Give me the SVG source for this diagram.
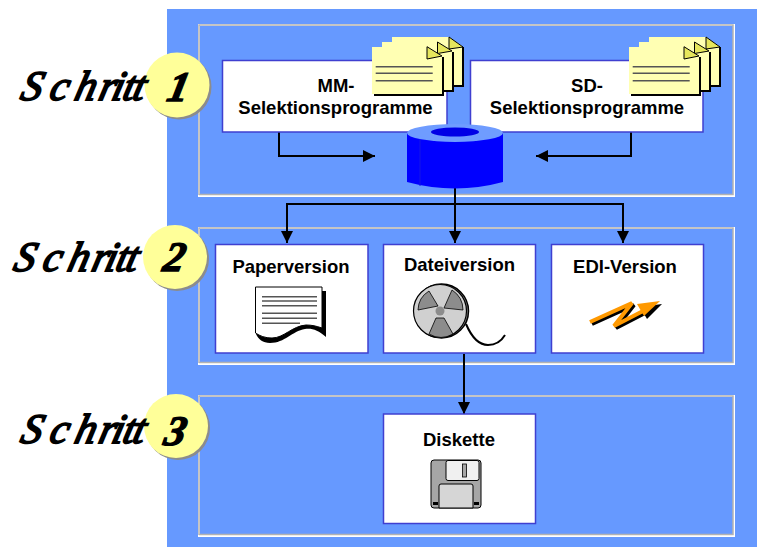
<svg xmlns="http://www.w3.org/2000/svg" width="757" height="547" viewBox="0 0 757 547">
<style>
.panel{fill:#6699ff;stroke:#fff;stroke-width:2}
.panelin{fill:none;stroke:#b3b3b3;stroke-width:1.5}
.box{fill:#fff;stroke:#3f3fd0;stroke-width:1.5}
.lbl{font-family:"Liberation Sans",Arial,sans-serif;font-weight:700;font-size:18.500px;fill:#000;text-anchor:middle}
.step{font-family:"Liberation Serif","Times New Roman",serif;font-style:italic;font-size:42px;fill:#000;stroke:#000;stroke-width:1.800}
.num{font-family:"Liberation Serif","Times New Roman",serif;font-weight:700;font-style:italic;font-size:42px;fill:#000;stroke:#000;stroke-width:1.400;text-anchor:middle}
.sh{fill:#8c8c8c}
.ball{fill:#ffff99}
.con{fill:none;stroke:#000;stroke-width:2}
.doc{fill:#ffffb3;stroke:none}
.dogear{fill:#e6e65c;stroke:#000;stroke-width:1}
.ln{stroke:#555;stroke-width:1.400;fill:none}
</style>
<defs>
<marker id="ah" markerUnits="userSpaceOnUse" markerWidth="13" markerHeight="13" refX="12" refY="6" orient="auto"><path d="M0 0L12 6L0 12Z" fill="#000"/></marker>
<g id="docs">
<path d="M90 10H92V50H22V48H90Z" fill="#000"/>
<path class="doc" d="M20 0H77L90 9V48H20Z"/>
<path class="dogear" d="M77 0L91 10L77 12Z"/>
<path d="M80 15H82V55H12V53H80Z" fill="#000"/>
<path class="doc" d="M10 5H66L80 14V53H10Z"/>
<path class="dogear" d="M65.500 5L80 14L65.500 16.500Z"/>
<path d="M70 20H72V59H2V57H70Z" fill="#000"/>
<path class="doc" d="M0 10H55L70 19V57H0Z"/>
<path class="dogear" d="M55 9.700L70 19L55 22Z"/>
<path class="ln" d="M3.700 29.700H60.700M3.700 36.300H60.700M3.700 43.700H60.700"/>
</g>
</defs>
<rect width="757" height="547" fill="#fff"/>
<rect x="167" y="9" width="590" height="538" fill="#6699ff"/>

<g id="panel1"><rect class="panel" x="199" y="25" width="535" height="171"/><path class="panelin" d="M199 195V25H733V194.500H199"/></g>
<g id="panel2"><rect class="panel" x="199" y="228" width="535" height="136"/><path class="panelin" d="M199 363V228H733V362.500H199"/></g>
<g id="panel3"><rect class="panel" x="199" y="396" width="535" height="140"/><path class="panelin" d="M199 535V396H733V534.500H199"/></g>

<g id="connectors">
<path class="con" d="M279 132V156H375" marker-end="url(#ah)"/>
<path class="con" d="M631 132V156H536" marker-end="url(#ah)"/>
<path class="con" d="M455 186V243" marker-end="url(#ah)"/>
<path class="con" d="M287 204H623"/>
<path class="con" d="M287 203V243" marker-end="url(#ah)"/>
<path class="con" d="M623 203V243" marker-end="url(#ah)"/>
<path class="con" d="M464 354V414" marker-end="url(#ah)"/>
</g>

<g id="mm"><rect class="box" x="222.500" y="60.500" width="224.500" height="71.500"/>
<text class="lbl" x="336" y="92">MM-</text><text class="lbl" x="335.500" y="114">Selektionsprogramme</text>
<use href="#docs" x="372" y="37"/></g>
<g id="sd"><rect class="box" x="470.500" y="60.500" width="232.500" height="71.500"/>
<text class="lbl" x="587" y="92">SD-</text><text class="lbl" x="587" y="114">Selektionsprogramme</text>
<use href="#docs" x="629" y="37"/></g>

<g id="db">
<path d="M407 133V182Q455 195 503 182V133Z" fill="#0000ff"/>
<path d="M420 138V186" stroke="#1414e8" stroke-width="1"/>
<ellipse cx="455" cy="133" rx="48" ry="9" fill="#6f9cff"/>
<ellipse cx="455" cy="132" rx="24" ry="4.500" fill="#0000e6"/>
</g>

<g id="paper"><rect class="box" x="215.500" y="244.500" width="152.500" height="108.500"/>
<text class="lbl" x="291" y="273">Paperversion</text>
<path d="M322 291H326V337C318 330 312 328 305 329C292 331 285 343 270 343C263 343 258 339 256 334Z" fill="#000"/>
<path d="M255.500 287H322V328C316 326 312 325 306 325C292 326 284 338 272 338C265 338 260 336 255.500 333Z" fill="#fff" stroke="#000"/>
<path class="ln" d="M262 296.700H317M262 301H317M262 305.700H317M262 313.300H317M262 318.300H317M262 323.300H300"/>
</g>

<g id="datei"><rect class="box" x="383.500" y="244.500" width="152" height="108.500"/>
<text class="lbl" x="459.500" y="271">Dateiversion</text>
<path d="M466 324C472 338 479 345 488 345C496 345 502 340 505 335" fill="none" stroke="#000" stroke-width="2"/>
<circle cx="441.500" cy="311" r="27" fill="#888" stroke="#000" stroke-width="1.500"/>
<circle cx="440" cy="311" r="26.500" fill="#d0d0d0" stroke="#000" stroke-width="1.200"/>
<path d="M418 310A23 23 0 0 1 429 291L438 306Z M452 290A24 24 0 0 1 463 310L444 308Z M436 318H444L453 334A24 24 0 0 1 429 334Z" fill="#8c8c8c" stroke="#000" stroke-width=".8"/>
<circle cx="440" cy="311" r="4.500" fill="#8c8c8c"/>
</g>

<g id="edi"><rect class="box" x="551.500" y="244.500" width="152" height="108.500"/>
<text class="lbl" x="625" y="273">EDI-Version</text>
<g transform="translate(2,2)"><path d="M590 322L632 303L614 326L645 310" fill="none" stroke="#000" stroke-width="4"/><path d="M660 302L638 305L645 317Z" fill="#000"/></g>
<path d="M590 322L632 303L614 326L645 310" fill="none" stroke="#ff9900" stroke-width="4"/><path d="M660 301L637 304L644 316Z" fill="#ff9900"/>
</g>

<g id="diskette"><rect class="box" x="383.500" y="414" width="152" height="109.500"/>
<text class="lbl" x="459" y="446">Diskette</text>
<rect x="431" y="460" width="50" height="48" rx="3" fill="#a6a6a6" stroke="#000"/>
<rect x="446" y="460.500" width="33" height="20" rx="2" fill="#f0f0f0" stroke="#000"/>
<rect x="462.500" y="464" width="4" height="13" fill="#a6a6a6" stroke="#000" stroke-width=".8"/>
<path d="M439 508V486Q439 484 441 484H471Q473 484 473 486V508Z" fill="#d6d6d6" stroke="#000"/>
<rect x="433" y="502" width="5" height="3" fill="#000"/><rect x="474" y="502" width="5" height="3" fill="#000"/>
</g>

<g id="step1"><circle class="sh" cx="179" cy="87" r="32.500"/><circle class="ball" cx="177" cy="85" r="32.500"/>
<text class="step" transform="translate(19,100) skewX(-14)" y="0" x="0 29 54 78 91 102 112">Schritt</text><text class="num" transform="translate(176,101) skewX(-12)" x="0" y="0">1</text></g>
<g id="step2"><circle class="sh" cx="177" cy="259" r="32"/><circle class="ball" cx="175" cy="257" r="32"/>
<text class="step" transform="translate(12,271) skewX(-14)" y="0" x="0 29 54 78 91 102 112">Schritt</text><text class="num" transform="translate(172,271) skewX(-12)" x="0" y="0">2</text></g>
<g id="step3"><circle class="sh" cx="178" cy="428" r="32"/><circle class="ball" cx="176" cy="426" r="32"/>
<text class="step" transform="translate(19,443) skewX(-14)" y="0" x="0 29 54 78 91 102 112">Schritt</text><text class="num" transform="translate(173,445) skewX(-12)" x="0" y="0">3</text></g>
</svg>
